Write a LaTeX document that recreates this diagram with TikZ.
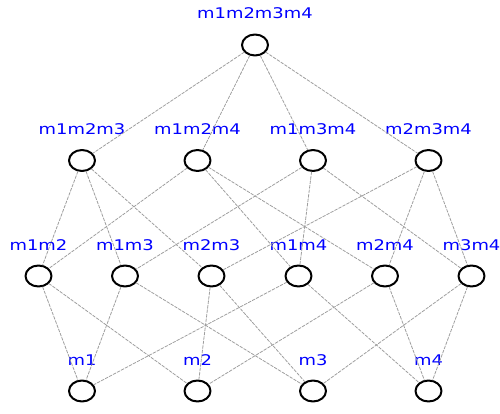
\documentclass[tikz,border=0pt]{standalone}
\usepackage{fontspec}
\newfontfamily\labelfont[FakeStretch=1.22]{DejaVu Sans}
\usetikzlibrary{shapes.geometric}
\begin{document}
\begin{tikzpicture}[x=1pt,y=-1pt,line join=round,line cap=round,
  sset/.style={ellipse,draw=black,line width=2pt,minimum width=26pt,minimum height=21pt,inner sep=0pt},
  lbl/.style={anchor=base,inner sep=0pt,text=blue,font=\labelfont\fontsize{14.7pt}{17pt}\selectfont},
  edge/.style={draw=black!38,line width=0.8pt,dash pattern=on 3pt off 1.5pt}]
\useasboundingbox (0,0) rectangle (500,414);
\def \ytop{45};
\def \ya{160.5};
\def \yb{276};
\def \yc{391};
% nodes and their labels
\foreach \n/\x/\y in {m1m2m3m4/255/\ytop,
  m1m2m3/82/\ya,m1m2m4/197.5/\ya,m1m3m4/313/\ya,m2m3m4/428.5/\ya,
  m1m2/38.5/\yb,m1m3/125/\yb,m2m3/211.5/\yb,m1m4/298.5/\yb,m2m4/385/\yb,m3m4/471.5/\yb,
  m1/82/\yc,m2/197.5/\yc,m3/313/\yc,m4/428.5/\yc}{
  \node[sset] (\n) at (\x,\y) {};
  \node[lbl] (l\n) at (\x,\y-26) {\n};}
% edges
\foreach \a/\b in {m1m2m3m4/m1m2m3,m1m2m3m4/m1m2m4,m1m2m3m4/m1m3m4,m1m2m3m4/m2m3m4,
  m1m2m3/m1m2,m1m2m3/m1m3,m1m2m3/m2m3,
  m1m2m4/m1m2,m1m2m4/m1m4,m1m2m4/m2m4,
  m1m3m4/m1m3,m1m3m4/m1m4,m1m3m4/m3m4,
  m2m3m4/m2m3,m2m3m4/m2m4,m2m3m4/m3m4,
  m1m2/m1,m1m2/m2,m1m3/m1,m1m3/m3,m1m4/m1,m1m4/m4,
  m2m3/m2,m2m3/m3,m2m4/m2,m2m4/m4,m3m4/m3,m3m4/m4}
  \draw[edge] (\a) -- (\b);
\end{tikzpicture}
\end{document}
